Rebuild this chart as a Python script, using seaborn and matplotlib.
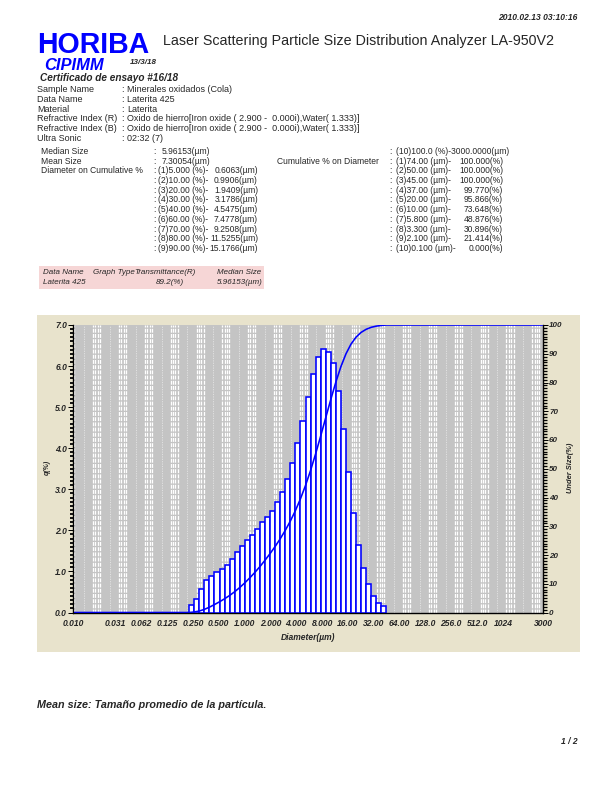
import numpy as np
import pandas as pd
import seaborn as sns
import matplotlib
matplotlib.use("Agg")
import matplotlib.pyplot as plt
from matplotlib.patches import Rectangle
from matplotlib.ticker import (FixedLocator, FixedFormatter, MultipleLocator,
                               NullFormatter, FormatStrFormatter)

# size classes (µm) of the analyzer, only the part that carries particles
channel_edges = [0.226, 0.259, 0.296, 0.339, 0.389, 0.445, 0.510, 0.584, 0.669,
                 0.766, 0.877, 1.005, 1.151, 1.318, 1.510, 1.729, 1.981, 2.269,
                 2.599, 2.976, 3.409, 3.905, 4.472, 5.122, 5.867, 6.720, 7.697,
                 8.816, 10.097, 11.565, 13.246, 15.172, 17.377, 19.904, 22.797,
                 26.111, 29.907, 34.255, 39.234, 44.938]

# frequency q(%) per class
q_percent = [0.19, 0.32, 0.57, 0.78, 0.90, 0.98, 1.05, 1.16, 1.30, 1.47,
             1.63, 1.77, 1.89, 2.04, 2.20, 2.32, 2.48, 2.68, 2.93, 3.24,
             3.65, 4.12, 4.66, 5.24, 5.81, 6.21, 6.42, 6.35, 6.07, 5.40,
             4.46, 3.41, 2.43, 1.65, 1.08, 0.69, 0.41, 0.24, 0.15]

x_range = [0.01, 3000]
x_tick_values = [0.01, 0.03125, 0.0625, 0.125, 0.25, 0.5, 1, 2, 4, 8, 16, 32,
                 64, 128, 256, 512, 1024, 3000]
x_tick_labels = ["0.010", "0.031", "0.062", "0.125", "0.250", "0.500", "1.000",
                 "2.000", "4.000", "8.000", "16.00", "32.00", "64.00", "128.0",
                 "256.0", "512.0", "1024", "3000"]

info_labels = ["Sample Name", "Data Name", "Material", "Refractive Index (R)",
               "Refractive Index (B)", "Ultra Sonic"]
info_values = ["Minerales oxidados (Cola)", "Laterita 425", "Laterita",
               "Oxido de hierro[Iron oxide ( 2.900 -  0.000i),Water( 1.333)]",
               "Oxido de hierro[Iron oxide ( 2.900 -  0.000i),Water( 1.333)]",
               "02:32 (7)"]

cum_pct_rows = ["(1)5.000 (%)-", "(2)10.00 (%)-", "(3)20.00 (%)-", "(4)30.00 (%)-",
                "(5)40.00 (%)-", "(6)60.00 (%)-", "(7)70.00 (%)-", "(8)80.00 (%)-",
                "(9)90.00 (%)-"]
cum_pct_vals = ["0.6063(µm)", "0.9906(µm)", "1.9409(µm)", "3.1786(µm)", "4.5475(µm)",
                "7.4778(µm)", "9.2508(µm)", "11.5255(µm)", "15.1766(µm)"]
diam_rows = ["(1)74.00 (µm)-", "(2)50.00 (µm)-", "(3)45.00 (µm)-", "(4)37.00 (µm)-",
             "(5)20.00 (µm)-", "(6)10.00 (µm)-", "(7)5.800 (µm)-", "(8)3.300 (µm)-",
             "(9)2.100 (µm)-", "(10)0.100 (µm)-"]
diam_vals = ["100.000(%)", "100.000(%)", "100.000(%)", "99.770(%)", "95.866(%)",
             "73.648(%)", "48.876(%)", "30.896(%)", "21.414(%)", "0.000(%)"]

sns.set_style("white")
plt.rcParams['font.family'] = ['Liberation Sans', 'DejaVu Sans']

W, H = 612, 792
fig = plt.figure(figsize=(W / 72, H / 72), dpi=72)
BI = dict(fontweight='bold', fontstyle='italic')


def put(x, y, s, size=9, **kw):
    kw.setdefault('va', 'center')
    fig.text(x / W, 1 - y / H, s, fontsize=size, **kw)


def box(x0, y0, x1, y1, color):
    fig.patches.append(Rectangle((x0 / W, 1 - y1 / H), (x1 - x0) / W, (y1 - y0) / H,
                                 transform=fig.transFigure, facecolor=color,
                                 edgecolor='none', zorder=-1))


# header
put(578, 18, "2010.02.13 03:10:16", size=8.5, ha='right', **BI)
put(37, 45, "HORIBA", size=28.5, fontweight='bold', color='#0000ff')
put(44, 65, "CIPIMM", size=16.5, color='#0000ff', **BI)
put(130, 62, "13/3/18", size=8, **BI)
put(163, 41, "Laser Scattering Particle Size Distribution Analyzer LA-950V2", size=14.2)
put(40, 78, "Certificado de ensayo #16/18", size=10, **BI)

for i, (lab, val) in enumerate(zip(info_labels, info_values)):
    y = 89.5 + i * 9.8
    put(37, y, lab)
    put(121, y, ":")
    put(127, y, val)

fs = 8.5
row_y = [151.5 + i * 9.7 for i in range(11)]
put(41, row_y[0], "Median Size", size=fs)
put(41, row_y[1], "Mean Size", size=fs)
put(41, row_y[2], "Diameter on Cumulative %", size=fs)
put(153, row_y[0], ":", size=fs)
put(153, row_y[1], ":", size=fs)
put(162, row_y[0], "5.96153(µm)", size=fs)
put(162, row_y[1], "7.30054(µm)", size=fs)
for i, (lab, val) in enumerate(zip(cum_pct_rows, cum_pct_vals)):
    y = row_y[i + 2]
    put(153, y, ":", size=fs)
    put(158, y, lab, size=fs)
    put(258, y, val, size=fs, ha='right')

put(389, row_y[0], ":", size=fs)
put(396, row_y[0], "(10)100.0 (%)-3000.0000(µm)", size=fs)
put(277, row_y[1], "Cumulative % on Diameter", size=fs)
for i, (lab, val) in enumerate(zip(diam_rows, diam_vals)):
    y = row_y[i + 1]
    put(389, y, ":", size=fs)
    put(396, y, lab, size=fs)
    put(503, y, val, size=fs, ha='right')

# small result table
box(39, 266, 264, 289, '#f6d6d6')
put(43, 272.5, "Data Name", size=8, fontstyle='italic')
put(93, 272.5, "Graph Type", size=8, fontstyle='italic')
put(134, 272.5, "Transmittance(R)", size=8, fontstyle='italic')
put(217, 272.5, "Median Size", size=8, fontstyle='italic')
put(43, 282.5, "Laterita 425", size=8, fontstyle='italic')
put(184, 282.5, "89.2(%)", size=8, fontstyle='italic', ha='right')
put(263, 282.5, "5.96153(µm)", size=8, fontstyle='italic', ha='right')

# chart panel
box(37, 315, 580, 652, '#e8e3cc')
ax = fig.add_axes([73 / W, 1 - 612.5 / H, 470 / W, 287.5 / H])
ax.set_facecolor('#c4c4c4')

edges = np.array(channel_edges)
centers = np.sqrt(edges[:-1] * edges[1:])
df = pd.DataFrame({"diameter": centers, "q": q_percent})
sns.histplot(data=df, x="diameter", weights="q", bins=list(np.log10(edges)),
             log_scale=True, stat="count", ax=ax, color='white',
             edgecolor='#0000ff', linewidth=1.6, alpha=1, zorder=3)
ax.set_xlim(*x_range)
ax.set_ylim(0, 7)

# background: clusters of white dashed lines once per doubling
band = [1.10, 1.17, 1.25, 1.33]
gap = np.geomspace(1.38, 2.18, 10)
minor_pos = []
for k in range(-7, 12):
    for f in band:
        ax.axvline(2.0 ** k * f, color='white', lw=1.3, ls=(0, (3, 1)), zorder=0.5)
    ax.axvline(2.0 ** k * 1.72, color='white', lw=0.6, ls=(0, (2, 2)),
               alpha=0.8, zorder=0.5)
    minor_pos += [2.0 ** k * f for f in gap]
    minor_pos += [2.0 ** k * f for f in band[1:3]]

# cumulative (under size) curve
cum = np.cumsum(q_percent)
cum = 100 * cum / cum[-1]
cum_x = np.concatenate([[x_range[0]], edges, [x_range[1]]])
cum_y = np.concatenate([[0, 0], cum, [100]])
ax2 = ax.twinx()
sns.lineplot(x=cum_x, y=cum_y, ax=ax2, color='#0000ff', linewidth=1.6)
ax2.set_ylim(0, 100)
ax2.set_xlim(*x_range)

# ticks
ax.xaxis.set_major_locator(FixedLocator(x_tick_values))
ax.xaxis.set_major_formatter(FixedFormatter(x_tick_labels))
ax.xaxis.set_minor_locator(FixedLocator([m for m in minor_pos
                                         if x_range[0] < m < x_range[1]]))
ax.xaxis.set_minor_formatter(NullFormatter())
ax.yaxis.set_major_locator(MultipleLocator(1))
ax.yaxis.set_minor_locator(MultipleLocator(0.1))
ax.yaxis.set_major_formatter(FormatStrFormatter('%.1f'))
ax2.yaxis.set_major_locator(MultipleLocator(10))
ax2.yaxis.set_minor_locator(MultipleLocator(1))
ax.tick_params(axis='x', which='major', direction='out', length=5, width=1,
               labelsize=8.5, pad=1, color='black')
ax.tick_params(axis='x', which='minor', direction='out', length=4.5, width=2.6,
               color='black')
ax.tick_params(axis='y', which='major', direction='out', length=5, width=1,
               labelsize=8.5, pad=1, color='black')
ax.tick_params(axis='y', which='minor', direction='out', length=3, width=1.8,
               color='black')
ax2.tick_params(axis='y', which='major', direction='out', length=5, width=1,
                labelsize=8, pad=1, color='black')
ax2.tick_params(axis='y', which='minor', direction='out', length=3.5, width=1.3,
                color='black')
for t in ax.get_xticklabels() + ax.get_yticklabels() + ax2.get_yticklabels():
    t.set_fontweight('bold')
    t.set_fontstyle('italic')

for a in (ax, ax2):
    a.set_xlabel("")
    a.set_ylabel("")
    a.spines['top'].set_visible(False)
    for s in ('left', 'right', 'bottom'):
        a.spines[s].set_color('black')
        a.spines[s].set_linewidth(1.2)

put(308, 638, "Diameter(µm)", size=8.5, ha='center', **BI)
put(47, 467, "q(%)", size=7, ha='center', rotation=90, **BI)
put(571, 468, "Under Size(%)", size=7.5, ha='center', rotation=90, **BI)

# footer
put(37, 705, "Mean size: Tamaño promedio de la partícula.", size=10.8, **BI)
put(578, 742, "1 / 2", size=8.5, ha='right', **BI)

fig.savefig("out.png", dpi=72)
